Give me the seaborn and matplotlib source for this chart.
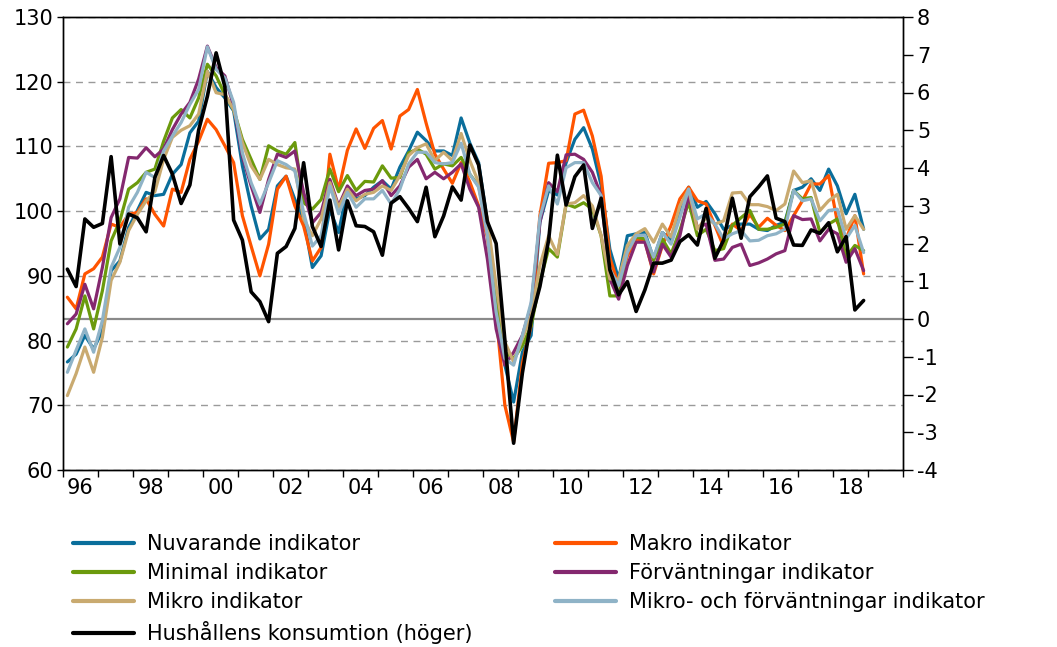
import numpy as np
import pandas as pd
import matplotlib
matplotlib.use("Agg")
import matplotlib.pyplot as plt
from matplotlib.lines import Line2D
from matplotlib.ticker import MultipleLocator, FixedLocator, FixedFormatter, NullFormatter
import seaborn as sns

# ---- Settings ----
sns.set_style("ticks")
plt.rcParams['font.family'] = ['DejaVu Sans']
plt.rcParams['axes.unicode_minus'] = False
plt.rcParams['text.color'] = 'black'
plt.rcParams['xtick.color'] = 'black'
plt.rcParams['ytick.color'] = 'black'

# ---- Data (quarterly, 1996Q1 - 2018Q4) ----
quarters = pd.period_range('1996Q1', '2018Q4', freq='Q')

nuvarande = [
    76.7, 77.9, 80.8, 78.7, 81.5, 90.8, 92.3, 97.5, 100.1, 102.9, 102.4, 102.6,
    105.7, 107.2, 112.1, 113.9, 121.6, 119.1, 117.5, 115.5, 107.0, 100.8, 95.7, 97.2,
    103.9, 105.4, 101.8, 98.8, 91.3, 93.1, 100.3, 96.7, 103.4, 101.9, 102.4, 103.7,
    104.7, 103.4, 106.8, 109.3, 112.2, 110.9, 109.3, 109.3, 108.6, 114.4, 110.5, 107.5,
    98.3, 87.0, 76.2, 70.5, 78.2, 80.8, 98.3, 103.2, 102.5, 107.5, 111.1, 112.9,
    109.6, 104.0, 94.1, 89.5, 96.2, 96.5, 96.7, 92.6, 96.7, 95.4, 100.1, 103.7,
    100.6, 101.5, 99.6, 97.2, 97.8, 98.0, 98.0, 97.2, 97.0, 97.8, 98.3, 103.2,
    103.7, 105.0, 103.2, 106.5, 103.9, 99.6, 102.6, 97.2]

makro = [
    86.7, 84.9, 90.3, 91.1, 92.9, 98.0, 97.5, 99.5, 99.8, 101.9, 99.5, 97.7,
    103.4, 102.9, 108.0, 110.8, 114.2, 112.6, 110.1, 107.5, 99.3, 94.6, 90.0, 94.9,
    103.4, 105.4, 100.8, 97.7, 92.3, 94.4, 108.8, 103.3, 109.4, 112.7, 109.7, 112.8,
    114.0, 109.6, 114.7, 115.7, 118.8, 113.6, 108.8, 106.5, 104.3, 107.5, 104.5, 100.8,
    96.0, 84.0, 70.0, 64.3, 76.5, 82.3, 99.3, 107.4, 107.5, 107.8, 115.0, 115.6,
    111.6, 105.4, 92.8, 88.5, 93.1, 95.7, 95.4, 90.3, 94.7, 97.8, 101.9, 103.7,
    101.6, 101.1, 97.8, 94.5, 98.0, 97.0, 99.5, 97.5, 98.9, 97.8, 97.0, 99.3,
    101.6, 104.2, 104.2, 105.5, 98.3, 95.7, 99.3, 90.3]

minimal = [
    79.0, 81.8, 86.9, 81.8, 87.7, 95.4, 98.5, 103.4, 104.4, 106.0, 106.5, 110.8,
    114.4, 115.7, 114.4, 117.5, 122.7, 120.9, 118.0, 115.7, 111.1, 108.0, 104.9, 110.1,
    109.3, 108.8, 110.6, 101.3, 100.3, 101.8, 106.5, 103.0, 105.5, 103.2, 104.6, 104.5,
    107.0, 105.1, 105.2, 109.0, 109.6, 108.8, 106.5, 107.3, 107.0, 108.3, 105.7, 103.9,
    97.2, 87.0, 78.2, 77.2, 79.2, 82.3, 89.0, 94.2, 92.9, 101.1, 100.6, 101.3,
    100.3, 96.2, 86.9, 86.9, 94.2, 96.0, 95.7, 92.4, 95.7, 93.4, 97.0, 101.4,
    96.2, 97.2, 93.9, 94.2, 97.8, 99.0, 100.1, 97.2, 97.2, 97.5, 98.0, 103.2,
    101.9, 102.1, 96.7, 98.0, 98.8, 92.9, 94.7, 93.9]

forvantningar = [
    82.6, 84.1, 88.7, 84.9, 91.3, 99.0, 101.9, 108.3, 108.2, 109.8, 108.4, 109.6,
    112.6, 115.0, 116.8, 120.4, 125.5, 122.2, 120.9, 116.2, 108.5, 103.9, 99.8, 104.9,
    108.8, 108.3, 109.3, 102.9, 98.2, 99.8, 104.9, 100.8, 103.9, 102.4, 103.2, 103.4,
    104.7, 102.4, 103.9, 106.8, 108.0, 105.0, 106.0, 105.0, 106.0, 107.3, 103.4, 100.6,
    92.6, 81.8, 76.2, 78.2, 80.8, 85.4, 98.3, 104.4, 103.0, 108.7, 108.8, 108.0,
    106.0, 102.4, 89.5, 86.4, 91.6, 95.2, 95.2, 90.6, 94.9, 92.9, 96.2, 102.4,
    97.5, 98.0, 92.4, 92.6, 94.4, 94.9, 91.6, 92.0, 92.6, 93.4, 93.9, 99.3,
    98.7, 98.8, 95.4, 97.2, 96.5, 92.1, 94.2, 90.8]

mikro = [
    71.5, 74.9, 79.0, 75.1, 80.5, 89.3, 92.1, 97.0, 99.5, 101.6, 103.0, 108.0,
    111.4, 112.5, 113.2, 115.0, 121.6, 118.3, 118.0, 115.7, 110.6, 107.0, 104.9, 108.0,
    107.2, 106.7, 106.5, 98.8, 96.2, 98.8, 104.4, 100.6, 103.4, 101.6, 102.6, 102.9,
    103.9, 103.2, 105.5, 108.6, 109.8, 110.4, 107.8, 109.1, 107.8, 112.0, 107.8, 104.4,
    98.8, 88.5, 79.8, 76.7, 80.3, 83.9, 91.6, 96.2, 93.3, 101.1, 101.3, 102.4,
    100.8, 96.2, 89.5, 89.5, 94.7, 96.5, 97.3, 95.2, 98.0, 96.0, 100.8, 103.4,
    97.2, 99.0, 98.0, 98.5, 102.8, 102.9, 101.0, 101.0, 100.7, 100.1, 101.1, 106.2,
    104.4, 104.7, 100.1, 101.6, 102.6, 97.2, 99.3, 97.2]

mikro_forv = [
    75.1, 78.5, 81.8, 78.2, 83.1, 91.3, 94.4, 100.6, 102.9, 106.0, 105.2, 109.3,
    111.6, 113.7, 116.5, 118.8, 125.4, 121.9, 120.6, 116.8, 109.0, 104.4, 101.1, 104.4,
    107.8, 107.2, 106.2, 99.8, 94.6, 96.2, 103.9, 99.6, 102.9, 100.6, 101.9, 101.9,
    103.2, 101.1, 103.4, 107.3, 109.1, 109.1, 107.5, 107.3, 107.5, 110.5, 105.7, 103.7,
    96.2, 84.4, 77.2, 76.2, 80.8, 85.9, 99.0, 103.9, 101.1, 106.7, 107.5, 107.5,
    104.4, 102.4, 91.0, 88.5, 93.6, 96.2, 96.3, 92.9, 96.7, 94.9, 99.0, 103.4,
    98.8, 99.6, 98.0, 95.7, 96.5, 97.0, 95.4, 95.5, 96.2, 96.5, 97.2, 103.2,
    101.6, 101.9, 98.5, 100.1, 100.3, 95.7, 97.8, 93.6]

konsumtion = [
    1.32, 0.86, 2.65, 2.43, 2.53, 4.30, 1.99, 2.78, 2.68, 2.31, 3.75, 4.33,
    3.84, 3.06, 3.55, 5.00, 5.90, 7.05, 6.15, 2.62, 2.09, 0.72, 0.46, -0.07,
    1.74, 1.92, 2.40, 4.14, 2.45, 1.92, 3.15, 1.83, 3.13, 2.47, 2.45, 2.31,
    1.69, 3.07, 3.24, 2.93, 2.58, 3.49, 2.18, 2.73, 3.50, 3.15, 4.61, 4.08,
    2.58, 2.00, -0.56, -3.29, -1.43, -0.03, 0.86, 2.09, 4.34, 3.02, 3.77, 4.08,
    2.40, 3.20, 1.30, 0.64, 0.99, 0.20, 0.77, 1.48, 1.48, 1.56, 2.05, 2.23,
    1.96, 2.93, 1.61, 2.09, 3.20, 2.14, 3.24, 3.50, 3.79, 2.67, 2.58, 1.96,
    1.95, 2.36, 2.27, 2.55, 1.78, 2.18, 0.24, 0.49]

left_series = [
    ('Nuvarande indikator', nuvarande, '#0a6e9b'),
    ('Makro indikator', makro, '#ff5400'),
    ('Minimal indikator', minimal, '#6b9a0c'),
    ('Förväntningar indikator', forvantningar, '#84286f'),
    ('Mikro indikator', mikro, '#c9aa70'),
    ('Mikro- och förväntningar indikator', mikro_forv, '#8fb3c7'),
]
right_label = 'Hushållens konsumtion (höger)'

df = pd.DataFrame({name: vals for name, vals, _ in left_series})
df[right_label] = konsumtion
df['t'] = quarters.year + (quarters.quarter - 0.5) / 4

left_lim = (60, 130)
right_lim = (-4, 8)

# ---- Figure ----
W, H = 1057, 647
fig = plt.figure(figsize=(W / 100, H / 100), dpi=100)
ax = fig.add_axes([63 / W, 1 - 470 / H, 840 / W, 453 / H])
ax2 = ax.twinx()

for name, _, color in left_series:
    sns.lineplot(data=df, x='t', y=name, ax=ax, color=color, lw=2.3, zorder=3)
sns.lineplot(data=df, x='t', y=right_label, ax=ax2, color='black', lw=2.6, zorder=4)

ax.set_xlim(1996, 2020)
ax.set_ylim(*left_lim)
ax2.set_ylim(*right_lim)

# zero line of right axis, drawn on left axis under the lines
zero_left = left_lim[0] + (0 - right_lim[0]) / (right_lim[1] - right_lim[0]) * (left_lim[1] - left_lim[0])
ax.axhline(zero_left, color='#8a8a8a', lw=1.6, zorder=1.5)

ax.yaxis.set_major_locator(MultipleLocator(10))
ax.grid(axis='y', color='#9a9a9a', lw=1.0, ls=(0, (5, 4)), zorder=1)
ax2.yaxis.set_major_locator(MultipleLocator(1))

# x ticks: marks at each year, labels centred on even years
ax.xaxis.set_major_locator(MultipleLocator(1))
ax.xaxis.set_major_formatter(NullFormatter())
label_years = list(range(1996, 2019, 2))
ax.xaxis.set_minor_locator(FixedLocator([y + 0.5 for y in label_years]))
ax.xaxis.set_minor_formatter(FixedFormatter([f'{y % 100:02d}' for y in label_years]))
ax.tick_params(axis='x', which='major', direction='out', length=5, width=1)
ax.tick_params(axis='x', which='minor', length=0, pad=6, labelsize=15)
ax.tick_params(axis='y', direction='out', length=4, width=1, labelsize=15, pad=3)
ax2.tick_params(axis='y', direction='out', length=7, width=1, labelsize=15, pad=3)

for a in (ax, ax2):
    a.set_xlabel('')
    a.set_ylabel('')
    for s in a.spines.values():
        s.set_visible(True)
        s.set_color('black')
        s.set_linewidth(1.0)

# ---- Legend (two columns, row-wise order) ----
leg_font = {'family': 'DejaVu Sans', 'size': 15}
col1 = [(n, c) for n, _, c in left_series[0::2]] + [(right_label, 'black')]
col2 = [(n, c) for n, _, c in left_series[1::2]]
for items, x0 in ((col1, 73 / W), (col2, 555 / W)):
    handles = [Line2D([], [], color=c, lw=3) for _, c in items]
    fig.legend(handles, [n for n, _ in items], loc='upper left',
               bbox_to_anchor=(x0, 1 - 534 / H), frameon=False, prop=leg_font,
               handlelength=2.95, handletextpad=0.62, labelspacing=0.44,
               borderpad=0, borderaxespad=0)

fig.savefig('out.png', dpi=100)
